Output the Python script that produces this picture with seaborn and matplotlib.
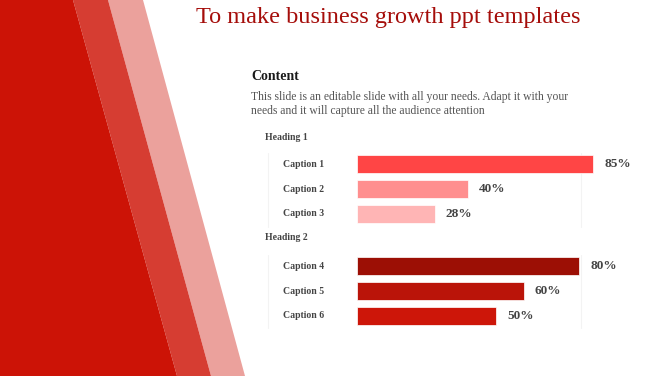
import matplotlib.pyplot as plt
import matplotlib.patches as mpatches
import seaborn as sns

# Data
headings = ["Heading 1", "Heading 2"]
captions_1 = ["Caption 1", "Caption 2", "Caption 3"]
values_1 = [85, 40, 28]
colors_1 = ["#FF4545", "#FF8F8F", "#FFB5B5"]
captions_2 = ["Caption 4", "Caption 5", "Caption 6"]
values_2 = [80, 60, 50]
colors_2 = ["#9C0F05", "#BA1409", "#CD1609"]

title = "To make business growth ppt templates"
subtitle = "Content"
body = ("This slide is an editable slide with all your needs. Adapt it with your\n"
        "needs and it will capture all the audience attention")

sns.set_style("white")
plt.rcParams["font.family"] = ["Liberation Serif", "DejaVu Serif"]

W, H = 670, 376
fig = plt.figure(figsize=(W / 100, H / 100), dpi=100)

# background layer in pixel coordinates
bg = fig.add_axes([0, 0, 1, 1])
bg.set_xlim(0, W)
bg.set_ylim(H, 0)
bg.axis("off")
bg.add_patch(mpatches.Polygon([(108, 0), (143, 0), (245, H), (211, H)], color="#EBA19C", lw=0))
bg.add_patch(mpatches.Polygon([(73, 0), (108, 0), (211, H), (177, H)], color="#D63D32", lw=0))
bg.add_patch(mpatches.Polygon([(0, 0), (73, 0), (177, H), (0, H)], color="#CC1306", lw=0))

bg.text(388, 17, title, fontsize=17.5, color="#A50D0A", ha="center", va="center")
bg.text(251, 76, subtitle, fontsize=10, fontweight="bold", color="#1A1A1A", va="center")
bg.text(251, 104, body, fontsize=8.4, color="#555555", va="center", linespacing=1.25)

# faint frames around the caption groups
for y0, y1 in [(153, 227), (255, 328)]:
    bg.plot([268, 268], [y0, y1], color="#F3F3F3", lw=0.8)
    bg.plot([581, 581], [y0, y1], color="#F3F3F3", lw=0.8)

bg.text(265, 137, headings[0], fontsize=7, fontweight="bold", color="#444444", va="center")
bg.text(265, 238, headings[1], fontsize=7, fontweight="bold", color="#444444", va="center")


def group(rect, caps, vals, cols):
    ax = fig.add_axes(rect)
    sns.barplot(x=vals, y=caps, hue=caps, palette=cols, orient="h", width=0.72,
                saturation=1, edgecolor="#FFFFFF", linewidth=0.5, legend=False, ax=ax)
    ax.set_xlim(0, 100.7)
    ax.set_ylim(2.5, -0.5)
    ax.axis("off")
    for i, (c, v) in enumerate(zip(caps, vals)):
        ax.text(-0.264, i, c, transform=ax.get_yaxis_transform(), fontsize=7,
                fontweight="bold", color="#444444", va="center", ha="left")
        ax.text(v + 4, i, f"{v}%", fontsize=9.5, fontweight="bold",
                color="#444444", va="center", ha="left")


x0, xw = 357 / W, 280 / W
group([x0, (H - 226.5) / H, xw, 75 / H], captions_1, values_1, colors_1)
group([x0, (H - 328) / H, xw, 74 / H], captions_2, values_2, colors_2)

fig.savefig("out.png", dpi=100)
